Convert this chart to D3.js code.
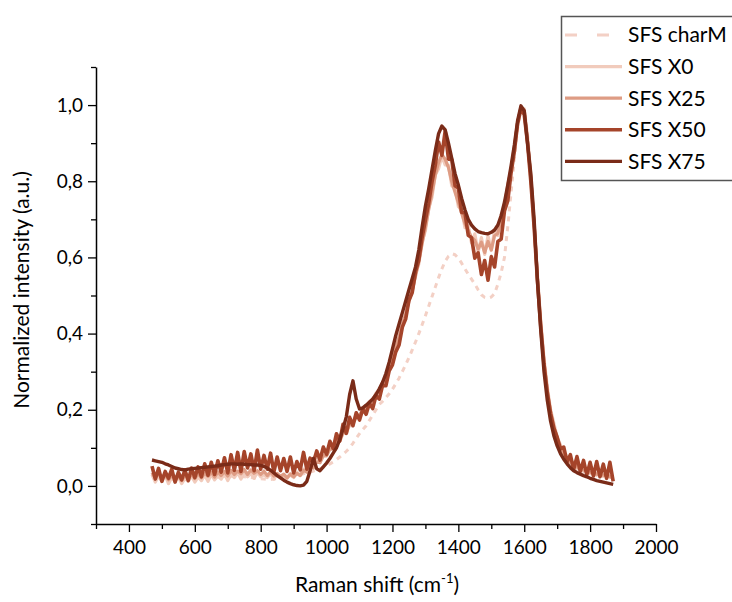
<!DOCTYPE html>
<html><head><meta charset="utf-8">
<script src="https://cdn.jsdelivr.net/npm/d3@7"></script>
<style>body{margin:0;background:#fff;} svg{display:block;font-family:Lato,'Open Sans',sans-serif;}</style>
</head><body><svg id="c" width="732" height="602"></svg>
<script>
// Raman shift grid (cm-1)
const shift = [
470,480,490,500,510,520,530,540,550,560,
570,580,590,600,610,620,630,640,650,660,
670,680,690,700,710,720,730,740,750,760,
770,780,790,800,810,820,830,840,850,860,
870,880,890,900,910,920,930,940,950,960,
970,980,990,1000,1010,1020,1030,1040,1050,1060,
1070,1080,1090,1100,1110,1120,1130,1140,1150,1160,
1170,1180,1190,1200,1210,1220,1230,1240,1250,1260,
1270,1280,1290,1300,1310,1320,1330,1340,1350,1360,
1370,1380,1390,1400,1410,1420,1430,1440,1450,1460,
1470,1480,1490,1500,1510,1520,1530,1540,1550,1560,
1570,1580,1590,1600,1610,1620,1630,1640,1650,1660,
1670,1680,1690,1700,1710,1720,1730,1740,1750,1760,
1770,1780,1790,1800,1810,1820,1830,1840,1850,1860,
1870];

const charM = [
.030,.028,.030,.027,.028,.026,.027,.025,.026,.024,
.025,.024,.025,.024,.025,.024,.025,.025,.026,.025,
.026,.025,.026,.025,.026,.025,.025,.024,.024,.023,
.022,.021,.020,.019,.018,.017,.017,.018,.019,.020,
.021,.022,.024,.026,.028,.030,.032,.034,.036,.039,
.042,.045,.049,.053,.058,.063,.069,.076,.083,.091,
.100,.112,.125,.137,.148,.158,.172,.186,.200,.214,
.222,.232,.242,.254,.268,.283,.300,.318,.337,.357,
.378,.400,.423,.447,.472,.497,.522,.547,.570,.590,
.603,.610,.607,.598,.585,.570,.556,.543,.530,.515,
.502,.495,.493,.496,.505,.530,.560,.600,.680,.770,
.860,.940,.990,.980,.905,.805,.685,.545,.425,.325,
.250,.195,.155,.125,.100,.085,.070,.062,.055,.050,
.045,.042,.038,.036,.033,.031,.030,.028,.027,.025,
.020];

const x0 = [
.030,.010,.026,.012,.028,.006,.022,.012,.024,.006,
.020,.012,.026,.010,.023,.014,.028,.012,.030,.016,
.026,.018,.032,.014,.030,.022,.035,.018,.036,.024,
.033,.020,.036,.024,.030,.022,.032,.018,.031,.022,
.026,.020,.032,.022,.036,.028,.044,.038,.056,.050,
.070,.066,.087,.083,.104,.100,.122,.120,.144,.143,
.167,.166,.187,.186,.204,.206,.222,.226,.244,.250,
.274,.286,.314,.333,.367,.388,.427,.448,.492,.510,
.557,.583,.642,.670,.730,.758,.817,.833,.866,.843,
.842,.788,.782,.733,.727,.678,.684,.638,.662,.613,
.652,.608,.657,.618,.672,.658,.712,.728,.792,.828,
.887,.948,.990,.990,.920,.815,.695,.555,.435,.335,
.260,.200,.165,.128,.108,.085,.078,.060,.062,.045,
.052,.038,.045,.032,.042,.028,.040,.025,.038,.022,
.030];

const x25 = [
.035,.020,.033,.022,.029,.016,.028,.017,.026,.014,
.029,.018,.031,.019,.033,.021,.034,.025,.036,.023,
.037,.027,.038,.026,.041,.030,.039,.032,.043,.030,
.042,.033,.040,.030,.039,.027,.037,.026,.033,.025,
.031,.021,.031,.024,.033,.027,.041,.036,.051,.047,
.063,.061,.079,.079,.096,.097,.116,.117,.139,.139,
.161,.164,.181,.184,.199,.204,.216,.224,.239,.249,
.269,.284,.309,.334,.363,.391,.423,.451,.486,.514,
.551,.589,.636,.679,.726,.769,.816,.849,.870,.858,
.836,.799,.771,.744,.716,.689,.671,.652,.645,.622,
.640,.613,.642,.620,.657,.663,.702,.738,.787,.833,
.890,.955,.995,.985,.905,.805,.685,.545,.425,.325,
.250,.195,.155,.125,.100,.085,.070,.062,.055,.050,
.045,.042,.038,.036,.033,.031,.030,.028,.027,.025,
.020];

const x50 = [
.052,.018,.046,.012,.038,.020,.044,.010,.036,.016,
.042,.014,.047,.022,.050,.024,.058,.028,.062,.030,
.066,.036,.074,.034,.082,.041,.088,.038,.090,.047,
.084,.040,.094,.044,.080,.044,.086,.036,.076,.040,
.072,.038,.076,.034,.064,.042,.088,.044,.073,.062,
.092,.068,.102,.083,.117,.098,.137,.118,.162,.138,
.180,.158,.192,.173,.202,.188,.217,.203,.237,.228,
.264,.263,.302,.318,.352,.370,.417,.438,.487,.508,
.562,.593,.652,.698,.742,.798,.842,.903,.868,.932,
.858,.857,.788,.782,.718,.717,.658,.652,.598,.612,
.555,.592,.540,.602,.575,.642,.648,.722,.748,.822,
.878,.952,.990,.975,.900,.800,.680,.540,.420,.320,
.245,.190,.152,.128,.097,.102,.063,.082,.043,.077,
.038,.067,.029,.062,.026,.064,.024,.057,.020,.062,
.012];

const x75 = [
.068,.066,.064,.062,.058,.055,.051,.047,.045,.043,
.042,.044,.045,.046,.047,.048,.049,.050,.051,.052,
.053,.055,.056,.057,.058,.058,.057,.058,.057,.056,
.056,.055,.055,.054,.051,.047,.041,.034,.027,.021,
.015,.010,.006,.003,.001,.000,.002,.012,.040,.072,
.045,.040,.050,.060,.072,.086,.100,.122,.150,.182,
.240,.276,.228,.202,.205,.212,.220,.228,.240,.255,
.272,.295,.325,.360,.395,.425,.455,.485,.515,.545,
.575,.620,.680,.735,.780,.830,.880,.925,.945,.935,
.900,.860,.820,.790,.755,.725,.700,.685,.675,.668,
.665,.663,.662,.666,.672,.685,.710,.745,.790,.840,
.895,.960,.998,.985,.900,.820,.700,.540,.410,.300,
.225,.170,.132,.105,.085,.070,.058,.048,.040,.035,
.031,.027,.024,.020,.017,.014,.012,.010,.008,.006,
.004];

const seriesNames = ["SFS charM","SFS X0","SFS X25","SFS X50","SFS X75"];
const seriesValues = [charM, x0, x25, x50, x75];
const seriesColors = ["#f3d0c5","#f1cbbc","#de9c84","#a5442a","#7a2b18"];
const xTickLabels = [400,600,800,1000,1200,1400,1600,1800,2000];
const xMinorTicks = [300,500,700,900,1100,1300,1500,1700,1900];
const yTickLabels = [0,0.2,0.4,0.6,0.8,1.0];
const yMinorTicks = [-0.1,0.1,0.3,0.5,0.7,0.9,1.1];

const svg = d3.select("#c");
const x = d3.scaleLinear().domain([300,2000]).range([96,656]);
const y = d3.scaleLinear().domain([-0.1,1.1]).range([524,67]);
const FS = 19, FT = 21;

// lines
const line = d3.line().x(d=>x(d[0])).y(d=>y(d[1]));
const g = svg.append("g");
const widths = [3, 3.2, 3.2, 3.6, 3.4];
seriesValues.forEach((vals,i)=>{
  const pts = shift.map((s,k)=>[s, vals[k]]);
  g.append("path").datum(pts)
    .attr("d", line)
    .attr("fill","none")
    .attr("stroke", seriesColors[i])
    .attr("stroke-width", widths[i])
    .attr("stroke-linejoin","round")
    .attr("stroke-dasharray", i===0 ? "5,5" : null);
});

// axes
svg.append("g").attr("transform",`translate(0,${y(-0.1)})`)
  .call(d3.axisBottom(x).tickValues(xTickLabels).tickSize(8).tickSizeOuter(0).tickPadding(9).tickFormat(d3.format("d")));
svg.append("g").attr("transform",`translate(0,${y(-0.1)})`)
  .call(d3.axisBottom(x).tickValues(xMinorTicks).tickSize(5).tickFormat(""))
  .select(".domain").remove();
svg.append("g").attr("transform",`translate(${x(300)},0)`)
  .call(d3.axisLeft(y).tickValues(yTickLabels).tickSize(8).tickSizeOuter(0).tickPadding(5)
    .tickFormat(d=>d3.format(".1f")(d).replace(".",",")));
svg.append("g").attr("transform",`translate(${x(300)},0)`)
  .call(d3.axisLeft(y).tickValues(yMinorTicks).tickSize(5).tickFormat(""))
  .select(".domain").remove();
svg.selectAll(".domain").attr("stroke","#000").attr("stroke-width",1.5);
svg.selectAll(".tick line").attr("stroke","#000").attr("stroke-width",1.3);
svg.selectAll(".tick text").attr("font-size",FS).attr("font-family","Lato,'Open Sans',sans-serif").attr("fill","#000");

// axis titles
const xt = svg.append("text").attr("x",377).attr("y",592).attr("text-anchor","middle")
  .attr("font-size",FT).attr("fill","#000");
xt.append("tspan").text("Raman shift (cm");
xt.append("tspan").text("-1").attr("font-size",13).attr("dy",-9);
xt.append("tspan").text(")").attr("dy",9);
svg.append("text").attr("transform","translate(29,290) rotate(-90)").attr("text-anchor","middle")
  .attr("font-size",FT).attr("fill","#000").text("Normalized intensity (a.u.)");

// legend
const lg = svg.append("g");
lg.append("rect").attr("x",561.5).attr("y",16.5).attr("width",200).attr("height",164)
  .attr("fill","#fff").attr("stroke","#555").attr("stroke-width",1.5);
seriesNames.forEach((n,i)=>{
  const yy = 35 + i*31.6;
  lg.append("line").attr("x1",565).attr("x2",622).attr("y1",yy).attr("y2",yy)
    .attr("stroke",seriesColors[i]).attr("stroke-width",widths[i])
    .attr("stroke-dasharray", i===0 ? "12,20" : null);
  lg.append("text").attr("x",628).attr("y",yy).attr("dy","0.35em")
    .attr("font-size",FT).attr("fill","#000").text(n);
});
</script></body></html>
